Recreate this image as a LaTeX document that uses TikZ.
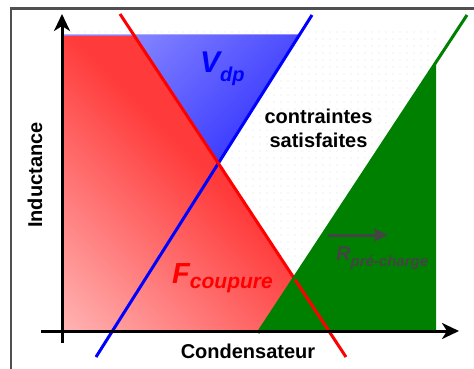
\documentclass[tikz,border=0pt]{standalone}
\usepackage{fontspec}
\setmainfont{Liberation Sans}
\usetikzlibrary{arrows.meta}
\definecolor{framec}{HTML}{505050}
\definecolor{dotc}{HTML}{DCDCDC}
\definecolor{redlight}{HTML}{FFB2B2}
\definecolor{reddark}{HTML}{FF3A3A}
\definecolor{bluelight}{HTML}{8A8AFF}
\definecolor{bluedark}{HTML}{3434FF}
\definecolor{greenc}{HTML}{008000}
\definecolor{rgray}{HTML}{444444}
\pgfdeclareverticalshading{redsh}{100bp}{color(0bp)=(redlight); color(15bp)=(redlight); color(53bp)=(reddark); color(100bp)=(reddark)}
\begin{document}
\begin{tikzpicture}[x=1pt,y=-1pt,
  lbl/.style={inner sep=0pt, font=\bfseries\fontsize{20}{24}\selectfont},
  curve/.style={line width=3pt},
  axis/.style={line width=3pt, -{Stealth[length=17pt,width=16pt,inset=5pt]}},
]
\useasboundingbox (0,0) rectangle (474,369);
% frame
\draw[color=framec, line width=2.5pt] (11,8.5) rectangle (520,420);
% dotted background
\foreach \i in {0,...,53}{
  \foreach \j in {0,...,42}{
    \fill[dotc] ({64+7*\i},{32+7*\j}) circle (0.55);
  }
}
% named points
\coordinate (r1) at (120,14);
\coordinate (r2) at (346,357);
\coordinate (b1) at (312,15);
\coordinate (b2) at (96,357);
\coordinate (g1) at (467,15);
\coordinate (g2) at (258,333);
\coordinate (xo) at (41,331);
\coordinate (xe) at (459,331);
\coordinate (yo) at (62,343);
\coordinate (ye) at (62,14);
% fills
\shade[bottom color=bluedark, top color=bluelight, shading angle=45] (63,34.5) -- (299.7,34.5) -- (218.5,163) -- cycle;
\shade[shading=redsh, shading angle=-45] (63,36) -- (134.5,36) -- (329.5,331) -- (63,331) -- cycle;
\fill[greenc] (259.3,331) -- (436,331) -- (436,62.2) -- cycle;
% lines
\draw[curve, blue] (b2) -- (b1);
\draw[curve, red] (r1) -- (r2);
\draw[curve, greenc] (g2) -- (g1);
% axes
\draw[axis] (yo) -- (ye);
\draw[axis] (xo) -- (xe);
% labels
\node[anchor=base west, inner sep=0pt, text=blue] (vdp) at (200,73)
  {\bfseries\itshape\fontsize{30}{30}\selectfont V\raisebox{-9pt}{\fontsize{20}{20}\selectfont dp}};
\node[anchor=base west, inner sep=0pt, text=red] (fc) at (172,283)
  {\bfseries\itshape\fontsize{29}{29}\selectfont F\raisebox{-5pt}{\fontsize{21}{21}\selectfont coupure}};
\node[anchor=base west, inner sep=0pt, text=rgray] (rpc) at (336,260)
  {\bfseries\itshape\fontsize{20}{20}\selectfont R\raisebox{-6pt}{\fontsize{15}{15}\selectfont pré-charge}};
\coordinate (ra) at (328,235);
\coordinate (rb) at (388,235);
\draw[line width=3pt, rgray, -{Stealth[length=14pt,width=13pt,inset=2pt]}] (ra) -- (rb);
\node[lbl, anchor=base] (c1) at (318.5,123) {contraintes};
\node[lbl, anchor=base] (c2) at (318.5,147) {satisfaites};
\node[lbl, anchor=base] (cx) at (248,358) {Condensateur};
\node[lbl, anchor=base, rotate=90] (iy) at (42,175) {Inductance};
\end{tikzpicture}
\end{document}
